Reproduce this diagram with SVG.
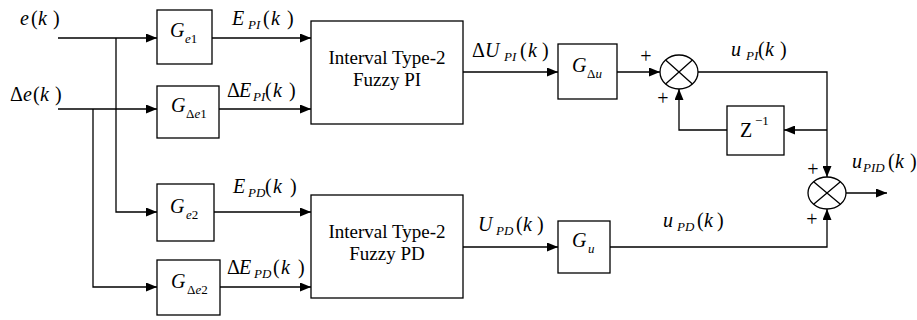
<svg xmlns="http://www.w3.org/2000/svg" width="917" height="320" viewBox="0 0 917 320">
<defs>
<marker id="arr" viewBox="0 0 11 9" refX="11" refY="4.5" markerWidth="11" markerHeight="9" orient="auto" markerUnits="userSpaceOnUse">
<path d="M0,0 L11,4.5 L0,9 z" fill="#000"/>
</marker>
</defs>
<rect width="917" height="320" fill="#fff"/>

<g id="connectors" fill="none" stroke="#000" stroke-width="1.3">
<path marker-end="url(#arr)" d="M58,38 H157"/>
<path marker-end="url(#arr)" d="M116,38 V212 H157"/>
<path marker-end="url(#arr)" d="M58,109 H157"/>
<path marker-end="url(#arr)" d="M93,109 V287 H157"/>
<path marker-end="url(#arr)" d="M212,38 H311"/>
<path marker-end="url(#arr)" d="M219,109 H311"/>
<path marker-end="url(#arr)" d="M214,212 H311"/>
<path marker-end="url(#arr)" d="M220,287 H311"/>
<path marker-end="url(#arr)" d="M463,72 H558"/>
<path marker-end="url(#arr)" d="M463,247 H558"/>
<path marker-end="url(#arr)" d="M617,72 H660"/>
<path marker-end="url(#arr)" d="M698,72 H827 V177"/>
<path marker-end="url(#arr)" d="M827,130 H784"/>
<path marker-end="url(#arr)" d="M727,130 H679 V89"/>
<path marker-end="url(#arr)" d="M846,193 H887"/>
<path marker-end="url(#arr)" d="M610,247 H827 V209"/>
</g>

<g id="in_e">
<text font-family="Liberation Serif" font-size="20" y="25"><tspan font-style="italic" x="20">e</tspan><tspan x="31">(</tspan><tspan font-style="italic" x="38">k</tspan><tspan x="53">)</tspan></text>
</g>
<g id="in_de">
<text font-family="Liberation Serif" font-size="20" y="101"><tspan x="10">Δ</tspan><tspan font-style="italic" x="23">e</tspan><tspan x="33">(</tspan><tspan font-style="italic" x="40">k</tspan><tspan x="55">)</tspan></text>
</g>

<g id="Ge1">
<rect x="157" y="10" width="55" height="54" fill="#fff" stroke="#000" stroke-width="1.3"/>
<text font-family="Liberation Serif" font-size="20"><tspan font-style="italic" x="170" y="37">G</tspan><tspan font-size="13" font-style="italic" x="185" y="43">e<tspan font-style="normal">1</tspan></tspan></text>
</g>
<g id="GDe1">
<rect x="157" y="86" width="62" height="52" fill="#fff" stroke="#000" stroke-width="1.3"/>
<text font-family="Liberation Serif" font-size="20"><tspan font-style="italic" x="171" y="112">G</tspan><tspan font-size="13" x="186" y="118">Δ<tspan font-style="italic">e</tspan>1</tspan></text>
</g>
<g id="Ge2">
<rect x="157" y="184" width="57" height="57" fill="#fff" stroke="#000" stroke-width="1.3"/>
<text font-family="Liberation Serif" font-size="20"><tspan font-style="italic" x="170" y="213">G</tspan><tspan font-size="13" font-style="italic" x="186" y="219">e<tspan font-style="normal">2</tspan></tspan></text>
</g>
<g id="GDe2">
<rect x="157" y="260" width="63" height="55" fill="#fff" stroke="#000" stroke-width="1.3"/>
<text font-family="Liberation Serif" font-size="20"><tspan font-style="italic" x="171" y="288">G</tspan><tspan font-size="13" x="187" y="294">Δ<tspan font-style="italic">e</tspan>2</tspan></text>
</g>

<g id="lbl_EPI">
<text font-family="Liberation Serif" font-size="20" y="25"><tspan font-style="italic" x="232">E</tspan><tspan font-size="13" font-style="italic" x="248" y="29">PI</tspan><tspan x="263" y="25">(</tspan><tspan font-style="italic" x="271">k</tspan><tspan x="287">)</tspan></text>
</g>
<g id="lbl_dEPI">
<text font-family="Liberation Serif" font-size="20" y="97"><tspan x="227">Δ</tspan><tspan font-style="italic" x="239">E</tspan><tspan font-size="13" font-style="italic" x="253" y="101">PI</tspan><tspan x="265" y="97">(</tspan><tspan font-style="italic" x="273">k</tspan><tspan x="289">)</tspan></text>
</g>
<g id="lbl_EPD">
<text font-family="Liberation Serif" font-size="20" y="193"><tspan font-style="italic" x="233">E</tspan><tspan font-size="13" font-style="italic" x="248" y="197">PD</tspan><tspan x="265" y="193">(</tspan><tspan font-style="italic" x="273">k</tspan><tspan x="290">)</tspan></text>
</g>
<g id="lbl_dEPD">
<text font-family="Liberation Serif" font-size="20" y="274"><tspan x="227">Δ</tspan><tspan font-style="italic" x="239">E</tspan><tspan font-size="13" font-style="italic" x="254" y="278">PD</tspan><tspan x="273" y="274">(</tspan><tspan font-style="italic" x="281">k</tspan><tspan x="298">)</tspan></text>
</g>

<g id="FPI">
<rect x="311" y="21" width="152" height="103" fill="#fff" stroke="#000" stroke-width="1.3"/>
<text font-family="Liberation Serif" font-size="19" text-anchor="middle" x="387" y="64">Interval Type-2</text>
<text font-family="Liberation Serif" font-size="19" text-anchor="middle" x="387" y="86">Fuzzy PI</text>
</g>
<g id="FPD">
<rect x="311" y="195" width="152" height="103" fill="#fff" stroke="#000" stroke-width="1.3"/>
<text font-family="Liberation Serif" font-size="19" text-anchor="middle" x="387" y="238">Interval Type-2</text>
<text font-family="Liberation Serif" font-size="19" text-anchor="middle" x="387" y="260">Fuzzy PD</text>
</g>

<g id="lbl_dUPI">
<text font-family="Liberation Serif" font-size="20" y="57"><tspan x="472">Δ</tspan><tspan font-style="italic" x="485">U</tspan><tspan font-size="13" font-style="italic" x="504" y="61">PI</tspan><tspan x="520" y="57">(</tspan><tspan font-style="italic" x="528">k</tspan><tspan x="542">)</tspan></text>
</g>
<g id="lbl_UPD">
<text font-family="Liberation Serif" font-size="20" y="231"><tspan font-style="italic" x="478">U</tspan><tspan font-size="13" font-style="italic" x="496" y="235">PD</tspan><tspan x="516" y="231">(</tspan><tspan font-style="italic" x="523">k</tspan><tspan x="537">)</tspan></text>
</g>

<g id="GDu">
<rect x="558" y="44" width="59" height="55" fill="#fff" stroke="#000" stroke-width="1.3"/>
<text font-family="Liberation Serif" font-size="20"><tspan font-style="italic" x="572" y="72">G</tspan><tspan font-size="13" x="587" y="78">Δ<tspan font-style="italic">u</tspan></tspan></text>
</g>
<g id="Gu">
<rect x="558" y="221" width="52" height="52" fill="#fff" stroke="#000" stroke-width="1.3"/>
<text font-family="Liberation Serif" font-size="20"><tspan font-style="italic" x="572" y="247">G</tspan><tspan font-size="13" font-style="italic" x="588" y="253">u</tspan></text>
</g>

<g id="sum1">
<ellipse cx="679" cy="72" rx="19" ry="17" fill="#fff" stroke="#000" stroke-width="1.3"/>
<path d="M665.6,60 L692.4,84 M692.4,60 L665.6,84" fill="none" stroke="#000" stroke-width="1.3"/>
<text font-family="Liberation Serif" font-size="20" text-anchor="middle" x="646" y="63">+</text>
<text font-family="Liberation Serif" font-size="20" text-anchor="middle" x="663" y="105">+</text>
</g>

<g id="lbl_uPI">
<text font-family="Liberation Serif" font-size="20" y="56"><tspan font-style="italic" x="731">u</tspan><tspan font-size="13" font-style="italic" x="746" y="60">PI</tspan><tspan x="758" y="56">(</tspan><tspan font-style="italic" x="765">k</tspan><tspan x="780">)</tspan></text>
</g>

<g id="Zinv">
<rect x="727" y="106" width="57" height="49" fill="#fff" stroke="#000" stroke-width="1.3"/>
<text font-family="Liberation Serif" font-size="20"><tspan x="740" y="137">Z</tspan><tspan x="755" y="125" font-size="13">−1</tspan></text>
</g>

<g id="sum2">
<ellipse cx="827" cy="193" rx="19" ry="16" fill="#fff" stroke="#000" stroke-width="1.3"/>
<path d="M813.6,181.7 L840.4,204.3 M840.4,181.7 L813.6,204.3" fill="none" stroke="#000" stroke-width="1.3"/>
<text font-family="Liberation Serif" font-size="20" text-anchor="middle" x="813" y="176">+</text>
<text font-family="Liberation Serif" font-size="20" text-anchor="middle" x="812" y="226">+</text>
</g>

<g id="lbl_uPD">
<text font-family="Liberation Serif" font-size="20" y="227"><tspan font-style="italic" x="663">u</tspan><tspan font-size="13" font-style="italic" x="677" y="231">PD</tspan><tspan x="697" y="227">(</tspan><tspan font-style="italic" x="704">k</tspan><tspan x="717">)</tspan></text>
</g>
<g id="lbl_uPID">
<text font-family="Liberation Serif" font-size="20" y="168"><tspan font-style="italic" x="852">u</tspan><tspan font-size="13" font-style="italic" x="863" y="172">PID</tspan><tspan x="888" y="168">(</tspan><tspan font-style="italic" x="895">k</tspan><tspan x="910">)</tspan></text>
</g>
</svg>
